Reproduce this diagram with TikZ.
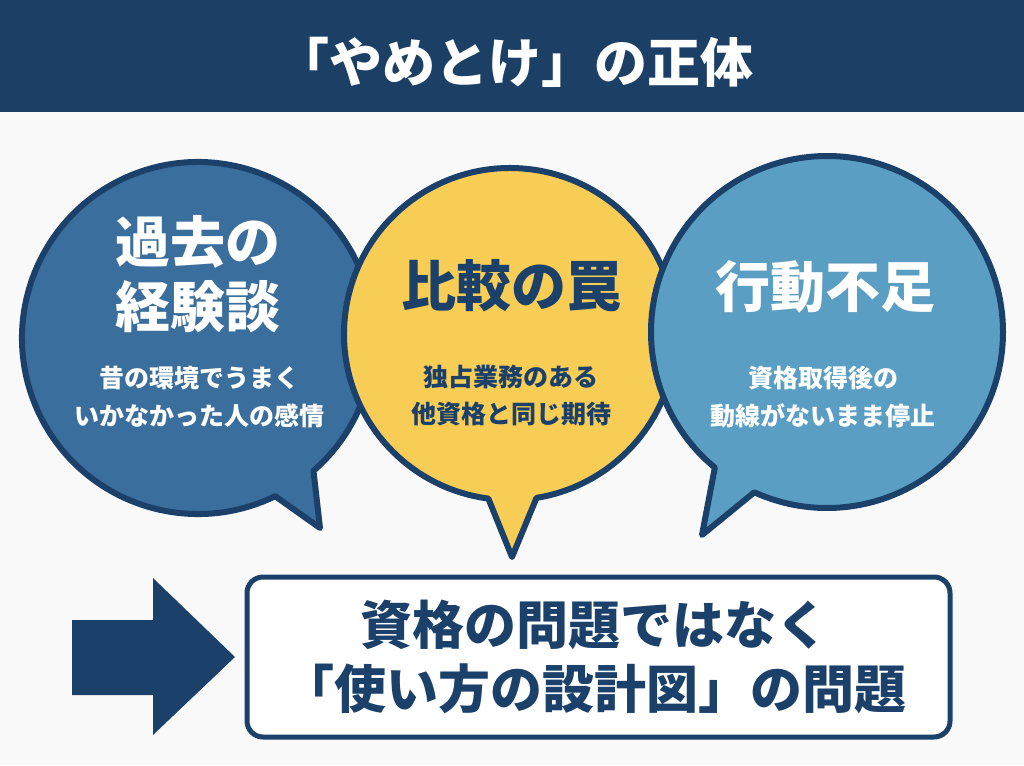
\documentclass[tikz,border=0pt]{standalone}
\usepackage{fontspec}
\newfontfamily\jp{Noto Sans CJK JP}
\definecolor{bg}{HTML}{F9F9FA}
\definecolor{navy}{HTML}{1B416B}
\definecolor{bar}{HTML}{1C3F66}
\definecolor{blueL}{HTML}{3A6E9C}
\definecolor{blueR}{HTML}{5A9EC3}
\definecolor{yel}{HTML}{F8CD55}
\tikzset{
  bubble/.style={draw=navy, line width=6pt, line join=round},
  headw/.style={font=\jp\bfseries\fontsize{55}{65}\selectfont, text=white, align=center, inner sep=0pt},
  headn/.style={font=\jp\bfseries\fontsize{55}{65}\selectfont, text=navy, align=center, inner sep=0pt},
  subw/.style={font=\jp\bfseries\fontsize{25}{38}\selectfont, text=white, align=center, inner sep=0pt},
  subn/.style={font=\jp\bfseries\fontsize{25}{37}\selectfont, text=navy, align=center, inner sep=0pt},
}
\begin{document}
\begin{tikzpicture}[x=1pt,y=-1pt]
\path[use as bounding box, fill=bg] (0,0) rectangle (1024,765);
\fill[bar] (0,0) rectangle (1024,112);
\node[font=\jp\bfseries\fontsize{53}{60}\selectfont, text=white, inner sep=0pt] (title) at (515,62) {「やめとけ」の正体};

% left bubble
\coordinate (cL) at (198,338);
\coordinate (tL) at (320,528);
\draw[bubble, fill=blueL] (cL) ++(64:176) arc[start angle=64, end angle=409, radius=176] -- (tL) -- cycle;
% middle bubble
\coordinate (cM) at (510,334);
\coordinate (tM) at (512,557);
\draw[bubble, fill=yel] (cM) ++(97.5:166) arc[start angle=97.5, end angle=440.8, radius=166] -- (tM) -- cycle;
% right bubble
\coordinate (cR) at (827,332);
\coordinate (tR) at (702,535);
\draw[bubble, fill=blueR] (cR) ++(129.6:176) arc[start angle=129.6, end angle=474.4, radius=176] -- (tR) -- cycle;

\node[headw] (hL) at (198,274) {過去の\\経験談};
\node[subw] (sL) at (199,397) {昔の環境でうまく\\いかなかった人の感情};
\node[headn] (hM) at (511,286) {比較の罠};
\node[subn] (sM) at (511,396) {独占業務のある\\他資格と同じ期待};
\node[headw] (hR) at (825,287) {行動不足};
\node[subw] (sR) at (823,397) {資格取得後の\\動線がないまま停止};

% arrow
\fill[navy] (72,620) -- (153,620) -- (153,578) -- (235,657) -- (153,735) -- (153,695) -- (72,695) -- cycle;

% conclusion box
\draw[navy, line width=5pt, fill=white, rounded corners=16pt] (247,577) rectangle (950,737);
\node[font=\jp\bfseries\fontsize{52}{64}\selectfont, text=navy, align=center, inner sep=0pt] (concl) at (594,657) {資格の問題ではなく\\「使い方の設計図」の問題};
\end{tikzpicture}
\end{document}
